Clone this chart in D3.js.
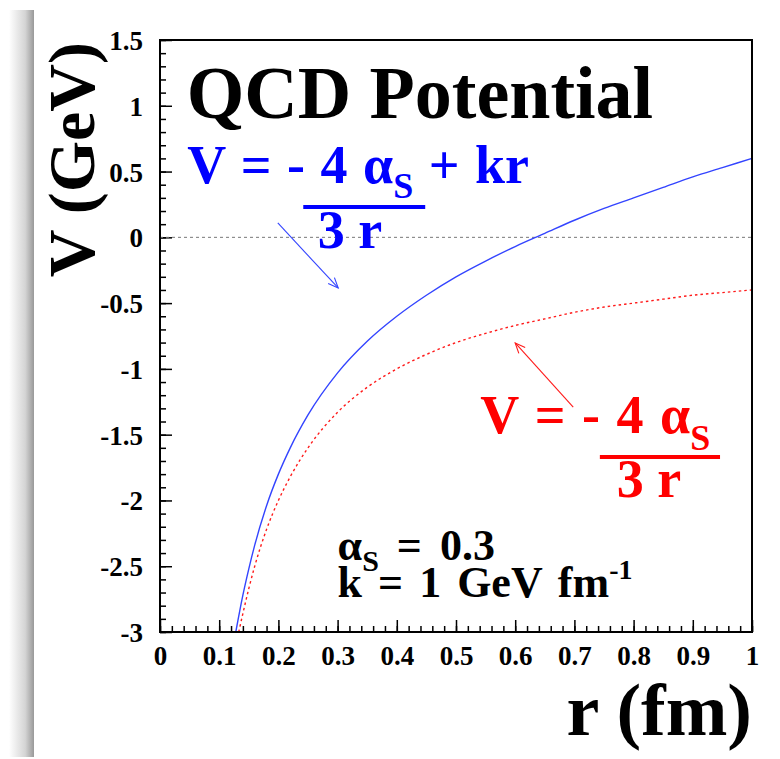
<!DOCTYPE html>
<html>
<head>
<meta charset="utf-8">
<script src="https://cdn.jsdelivr.net/npm/d3@7"></script>
<style>
  body { margin: 0; background: #fff; }
  svg { display: block; }
</style>
</head>
<body>
<div id="chart"></div>
<script>
// V(r) for the full potential
var rBlue = [0.128, 0.14, 0.15, 0.16, 0.18, 0.2, 0.22, 0.25, 0.3, 0.35, 0.4, 0.45, 0.5, 0.55, 0.6, 0.65, 0.7, 0.75, 0.8, 0.85, 0.9, 0.95, 1.0];
var vBlue = [-3.0, -2.72, -2.52, -2.34, -2.04, -1.8, -1.6, -1.35, -1.03, -0.79, -0.6, -0.44, -0.3, -0.18, -0.07, 0.03, 0.13, 0.22, 0.3, 0.38, 0.46, 0.53, 0.6];
// Coulomb part only
var rRed = [0.133, 0.14, 0.15, 0.16, 0.18, 0.2, 0.22, 0.25, 0.3, 0.35, 0.4, 0.45, 0.5, 0.55, 0.6, 0.65, 0.7, 0.75, 0.8, 0.85, 0.9, 0.95, 1.0];
var vRed = [-3.0, -2.86, -2.67, -2.5, -2.22, -2.0, -1.82, -1.6, -1.33, -1.14, -1.0, -0.89, -0.8, -0.73, -0.67, -0.62, -0.57, -0.53, -0.5, -0.47, -0.44, -0.42, -0.4];

var xTicks = [0, 0.1, 0.2, 0.3, 0.4, 0.5, 0.6, 0.7, 0.8, 0.9, 1];
var xTickLabels = ["0", "0.1", "0.2", "0.3", "0.4", "0.5", "0.6", "0.7", "0.8", "0.9", "1"];
var yTicks = [-3, -2.5, -2, -1.5, -1, -0.5, 0, 0.5, 1, 1.5];
var yTickLabels = ["-3", "-2.5", "-2", "-1.5", "-1", "-0.5", "0", "0.5", "1", "1.5"];

// set the dimensions and margins of the graph
var W = 780, H = 759;
var margin = {top: 40, right: 28, bottom: 127, left: 160},
  width = W - margin.left - margin.right,
  height = H - margin.top - margin.bottom;

var font = "'Liberation Serif', 'Times New Roman', serif";

var root = d3.select("#chart")
  .append("svg")
  .attr("width", W)
  .attr("height", H);

// grey drop shadow strip on the left edge
var grad = root.append("defs").append("linearGradient")
  .attr("id", "shade")
  .attr("x1", "0%").attr("x2", "100%");
grad.append("stop").attr("offset", "0%").attr("stop-color", "#fff");
grad.append("stop").attr("offset", "65%").attr("stop-color", "#d4d4d4");
grad.append("stop").attr("offset", "100%").attr("stop-color", "#999");
root.append("rect")
  .attr("x", 9).attr("y", 10)
  .attr("width", 25).attr("height", 747)
  .attr("fill", "url(#shade)");

var svg = root.append("g")
  .attr("transform", "translate(" + margin.left + "," + margin.top + ")");

// scales
const x = d3.scaleLinear().domain([0, 1]).range([0, width]);
const y = d3.scaleLinear().domain([-3, 1.5]).range([height, 0]);

// minor ticks
svg.append("g")
  .attr("class", "x-minor")
  .attr("transform", "translate(0," + height + ")")
  .call(d3.axisBottom(x).ticks(50).tickSize(-6).tickFormat(""));
svg.append("g")
  .attr("class", "y-minor")
  .call(d3.axisLeft(y).ticks(45).tickSize(-6).tickFormat(""));

// major ticks + labels
svg.append("g")
  .attr("class", "x-axis")
  .attr("transform", "translate(0," + height + ")")
  .call(d3.axisBottom(x)
    .tickValues(xTicks)
    .tickSizeInner(-12).tickSizeOuter(0)
    .tickPadding(14)
    .tickFormat((d, i) => xTickLabels[i]));
svg.append("g")
  .attr("class", "y-axis")
  .call(d3.axisLeft(y)
    .tickValues(yTicks)
    .tickSizeInner(-12).tickSizeOuter(0)
    .tickPadding(17)
    .tickFormat((d, i) => yTickLabels[i]));

svg.selectAll(".domain").remove();
svg.selectAll(".tick line").attr("stroke", "#000").attr("stroke-width", 1.5);
svg.selectAll(".x-axis text, .y-axis text")
  .style("font-family", font)
  .style("font-weight", "bold")
  .style("font-size", "27px")
  .attr("fill", "#000");
svg.selectAll(".y-axis text").attr("dy", "0.35em");

// zero line
svg.append("line")
  .attr("x1", x(0)).attr("x2", x(1))
  .attr("y1", y(0)).attr("y2", y(0))
  .attr("stroke", "#777")
  .attr("stroke-width", 1)
  .attr("stroke-dasharray", "3,3");

// curves
const line = d3.line()
  .x(d => x(d[0]))
  .y(d => y(d[1]))
  .curve(d3.curveMonotoneX);

svg.append("path")
  .datum(d3.zip(rBlue, vBlue))
  .attr("d", line)
  .attr("fill", "none")
  .attr("stroke", "#3344ff")
  .attr("stroke-width", 1.4);

svg.append("path")
  .datum(d3.zip(rRed, vRed))
  .attr("d", line)
  .attr("fill", "none")
  .attr("stroke", "#ff1a1a")
  .attr("stroke-width", 1.4)
  .attr("stroke-dasharray", "2.5,3");

// frame
svg.append("rect")
  .attr("width", width).attr("height", height)
  .attr("fill", "none")
  .attr("stroke", "#000")
  .attr("stroke-width", 2);

// arrows pointing at the curves
function arrow(from, to, color) {
  var x0 = x(from[0]), y0 = y(from[1]), x1 = x(to[0]), y1 = y(to[1]);
  var a = Math.atan2(y1 - y0, x1 - x0), len = 11, spread = 0.4;
  svg.append("line")
    .attr("x1", x0).attr("y1", y0).attr("x2", x1).attr("y2", y1)
    .attr("stroke", color).attr("stroke-width", 1.1);
  svg.append("polyline")
    .attr("points", [
      [x1 - len * Math.cos(a - spread), y1 - len * Math.sin(a - spread)],
      [x1, y1],
      [x1 - len * Math.cos(a + spread), y1 - len * Math.sin(a + spread)]
    ].join(" "))
    .attr("fill", "none").attr("stroke", color).attr("stroke-width", 1.1);
}
arrow([0.199, 0.109], [0.301, -0.385], "#3344ff");
arrow([0.698, -1.29], [0.600, -0.803], "#ff1a1a");

// text helper: pieces of [string, fontSize, dy]
function label(r, v, color, pieces, anchor, spacing) {
  var t = svg.append("text")
    .attr("x", x(r)).attr("y", y(v))
    .attr("fill", color)
    .attr("text-anchor", anchor || "start")
    .attr("xml:space", "preserve")
    .style("font-family", font)
    .style("font-weight", "bold")
    .style("word-spacing", (spacing || 0) + "px");
  pieces.forEach(p => {
    t.append("tspan")
      .attr("dy", p[2] || 0)
      .style("font-size", p[1] + "px")
      .text(p[0]);
  });
  return t;
}

label(0.045, 0.907, "#000", [["QCD Potential", 74]]);

// blue formula
label(0.046, 0.413, "#0000ff", [["V = - 4 α", 54], ["S", 36, 15], [" + kr", 54, -15]], "start", 2);
svg.append("line")
  .attr("x1", x(0.242)).attr("x2", x(0.448))
  .attr("y1", y(0.231)).attr("y2", y(0.231))
  .attr("stroke", "#0000ff").attr("stroke-width", 4);
label(0.321, -0.081, "#0000ff", [["3 r", 54]], "middle");

// red formula
label(0.541, -1.487, "#ff0000", [["V = - 4 α", 54], ["S", 36, 17]], "start", 3);
svg.append("line")
  .attr("x1", x(0.743)).attr("x2", x(0.946))
  .attr("y1", y(-1.67)).attr("y2", y(-1.67))
  .attr("stroke", "#ff0000").attr("stroke-width", 4);
label(0.826, -1.974, "#ff0000", [["3 r", 54]], "middle");

// parameters
label(0.30, -2.453, "#000", [["α", 44], ["S", 30, 11], [" = 0.3", 44, -11]], "start", 7);
label(0.30, -2.734, "#000", [["k = 1 GeV fm", 44], ["-1", 28, -18]], "start", 5);

// axis titles
root.append("text")
  .attr("x", margin.left + width)
  .attr("y", 735)
  .attr("text-anchor", "end")
  .style("font-family", font)
  .style("font-weight", "bold")
  .style("font-size", "74px")
  .text("r (fm)");

root.append("text")
  .attr("transform", "translate(94," + (margin.top + 2) + ") rotate(-90)")
  .attr("text-anchor", "end")
  .style("font-family", font)
  .style("font-weight", "bold")
  .style("font-size", "66px")
  .text("V (GeV)");
</script>
</body>
</html>
